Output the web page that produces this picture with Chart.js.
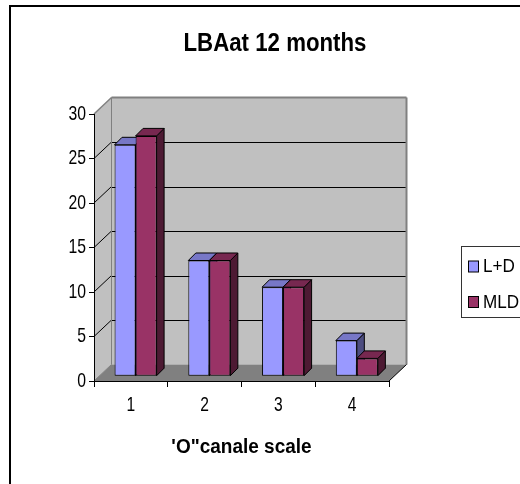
<!DOCTYPE html>
<html>
<head>
<meta charset="utf-8">
<title>LBAat 12 months</title>
<script src="https://cdn.jsdelivr.net/npm/chart.js@4.4.1/dist/chart.umd.min.js"></script>
<style>
  html, body { margin: 0; padding: 0; background: #fff; }
  canvas { display: block; }
</style>
</head>
<body>
<canvas id="c" width="520" height="484"></canvas>
<script>
// Chart data
const categories = ['1', '2', '3', '4'];
const seriesNames = ['L+D', 'MLD'];
const ldValues = [26, 13, 10, 4];
const mldValues = [27, 13, 10, 2];
const yMin = 0;
const yMax = 30;
const yStep = 5;
const chartTitle = 'LBAat 12 months';
const xAxisTitle = '\'O"canale scale';

const FONT = "'Liberation Sans', Arial, sans-serif";
const seriesColors = ['#9999ff', '#993366'];

// 3D look: depth of the plot box and of each bar, and where bars sit in the box
const BOX_DX = 17.5, BOX_DY = -16.5;
const BAR_SHIFT_X = 4.7, BAR_SHIFT_Y = -4.8;
const BAR_DEPTH = 7.5;

// Tall, narrow lettering: text is drawn horizontally condensed, by font weight and size
const squeezeTable = { 'bold 25': 0.89, 'bold 20': 0.95, 'normal 21': 0.75, 'normal 20': 0.78, 'normal 19': 0.9 };
const nativeFillText = CanvasRenderingContext2D.prototype.fillText;
function squeezeFor(font) {
  const m = /(\d+(?:\.\d+)?)px/.exec(font);
  const size = m ? Math.round(parseFloat(m[1])) : 0;
  const weight = /bold|700/.test(font) ? 'bold' : 'normal';
  return squeezeTable[weight + ' ' + size] || 1;
}
CanvasRenderingContext2D.prototype.fillText = function (text, x, y, maxWidth) {
  const sx = squeezeFor(this.font);
  this.save();
  this.translate(x, y);
  this.scale(sx, 1);
  if (maxWidth === undefined || maxWidth === null) nativeFillText.call(this, text, 0, 0);
  else nativeFillText.call(this, text, 0, 0, maxWidth / sx);
  this.restore();
};

function shade(hex, f) {
  const n = parseInt(hex.slice(1), 16);
  const r = Math.round(((n >> 16) & 255) * f);
  const g = Math.round(((n >> 8) & 255) * f);
  const b = Math.round((n & 255) * f);
  return `rgb(${r},${g},${b})`;
}

function poly(ctx, pts, fill, stroke, lw) {
  ctx.beginPath();
  ctx.moveTo(pts[0][0], pts[0][1]);
  for (let i = 1; i < pts.length; i++) ctx.lineTo(pts[i][0], pts[i][1]);
  ctx.closePath();
  if (fill) { ctx.fillStyle = fill; ctx.fill(); }
  if (stroke) { ctx.strokeStyle = stroke; ctx.lineWidth = lw || 1; ctx.stroke(); }
}

function line(ctx, x1, y1, x2, y2, color, lw) {
  ctx.beginPath();
  ctx.moveTo(x1, y1);
  ctx.lineTo(x2, y2);
  ctx.strokeStyle = color;
  ctx.lineWidth = lw || 1;
  ctx.stroke();
}

// Outer frame, walls, floor and gridlines of the 3D box
const boxPlugin = {
  id: 'box3d',
  beforeDraw(chart) {
    const ctx = chart.ctx;
    const xs = chart.scales.x, ys = chart.scales.y;
    const L = xs.left, R = xs.right;
    const B = ys.getPixelForValue(yMin), T = ys.getPixelForValue(yMax);
    const dx = BOX_DX, dy = BOX_DY;
    ctx.save();

    // frame
    ctx.fillStyle = '#fff';
    ctx.fillRect(0, 0, chart.width, chart.height);
    ctx.fillStyle = '#000';
    ctx.fillRect(9, 5, chart.width, 2);
    ctx.fillRect(9, 5, 2, chart.height);

    // left side wall
    poly(ctx, [[L, B], [L, T], [L + dx, T + dy], [L + dx, B + dy]], '#c0c0c0');
    // back wall
    poly(ctx, [[L + dx, T + dy], [R + dx, T + dy], [R + dx, B + dy], [L + dx, B + dy]], '#c0c0c0');
    // floor
    poly(ctx, [[L, B], [R, B], [R + dx, B + dy], [L + dx, B + dy]], '#808080');

    // gridlines on the back wall and the side wall
    ys.ticks.forEach(t => {
      const py = ys.getPixelForValue(t.value);
      if (t.value === yMin || t.value === yMax) return;
      const yy = Math.round(py + dy) + 0.5;
      line(ctx, L + dx, yy, R + dx, yy, '#000', 1);
      line(ctx, L, py, L + dx, py + dy, '#000', 1);
    });

    // box edges
    line(ctx, L, T, L + dx, T + dy, '#808080', 1.5);
    line(ctx, L + dx, T + dy, R + dx, T + dy, '#808080', 2);
    line(ctx, R + dx, T + dy, R + dx, B + dy, '#808080', 2);
    line(ctx, L + dx, T + dy, L + dx, B + dy, '#808080', 1);
    line(ctx, L, B, L + dx, B + dy, '#808080', 1);
    line(ctx, R, B, R + dx, B + dy, '#000', 1);
    ctx.restore();
  },
  // top and side faces of each bar; fronts are drawn by the bar controller
  beforeDatasetsDraw(chart) {
    const ctx = chart.ctx;
    ctx.save();
    ctx.translate(BAR_SHIFT_X, BAR_SHIFT_Y);
    const d = BAR_DEPTH;
    for (let i = 0; i < categories.length; i++) {
      chart.data.datasets.forEach((ds, di) => {
        const el = chart.getDatasetMeta(di).data[i];
        const p = el.getProps(['x', 'y', 'base', 'width'], true);
        const left = p.x - p.width / 2, right = p.x + p.width / 2;
        const top = Math.min(p.y, p.base), bottom = Math.max(p.y, p.base);
        const c = seriesColors[di];
        poly(ctx, [[right, top], [right + d, top - d], [right + d, bottom - d], [right, bottom]], shade(c, 0.5), '#000', 1);
        poly(ctx, [[left, top], [left + d, top - d], [right + d, top - d], [right, top]], shade(c, 0.78), '#000', 1);
      });
    }
  },
  afterDatasetsDraw(chart) {
    chart.ctx.restore();
  },
  // legend box
  afterDraw(chart) {
    const ctx = chart.ctx;
    ctx.save();
    const bx = 461.5, by = 246.5, bw = 80, bh = 71;
    ctx.fillStyle = '#fff';
    ctx.fillRect(bx, by, bw, bh);
    ctx.strokeStyle = '#333';
    ctx.lineWidth = 1;
    ctx.strokeRect(bx, by, bw, bh);
    ctx.font = `19px ${FONT}`;
    ctx.textBaseline = 'middle';
    ctx.textAlign = 'left';
    chart.data.datasets.forEach((ds, di) => {
      const cy = 266.5 + di * 35.5;
      ctx.fillStyle = ds.backgroundColor;
      ctx.fillRect(468.5, cy - 5.5, 10, 11);
      ctx.strokeStyle = '#000';
      ctx.strokeRect(468.5, cy - 5.5, 10, 11);
      ctx.fillStyle = '#000';
      ctx.fillText(ds.label, 483, cy + 0.5);
    });
    ctx.restore();
  }
};

new Chart(document.getElementById('c'), {
  type: 'bar',
  data: {
    labels: categories,
    datasets: [
      {
        label: seriesNames[0], data: ldValues,
        backgroundColor: seriesColors[0], borderColor: '#000', borderWidth: 1, borderSkipped: false,
        categoryPercentage: 0.57, barPercentage: 1, clip: false
      },
      {
        label: seriesNames[1], data: mldValues,
        backgroundColor: seriesColors[1], borderColor: '#000', borderWidth: 1, borderSkipped: false,
        categoryPercentage: 0.57, barPercentage: 1, clip: false
      }
    ]
  },
  options: {
    responsive: false,
    animation: false,
    devicePixelRatio: 1,
    events: [],
    layout: { padding: { left: 30, right: 0, top: 0, bottom: 0 } },
    plugins: {
      legend: { display: false },
      tooltip: { enabled: false },
      title: {
        display: true, text: chartTitle, color: '#000',
        font: { family: FONT, size: 25, weight: 'bold', lineHeight: 1.2 },
        padding: { top: 29, bottom: 55 }
      }
    },
    scales: {
      x: {
        offset: true,
        grid: { display: true, offset: true, drawOnChartArea: false, drawTicks: true, tickLength: 6, color: '#000' },
        border: { display: true, color: '#000', width: 1 },
        ticks: { color: '#000', font: { family: FONT, size: 20 }, padding: 6, maxRotation: 0 },
        title: {
          display: true, text: xAxisTitle, color: '#000',
          font: { family: FONT, size: 20, weight: 'bold', lineHeight: 1.2 },
          padding: { top: 0, bottom: 24.5 }
        },
        afterFit(s) { s.height = 103; }
      },
      y: {
        min: yMin, max: yMax,
        ticks: { stepSize: yStep, color: '#000', font: { family: FONT, size: 21 }, padding: 3 },
        grid: { display: true, drawOnChartArea: false, drawTicks: true, tickLength: 5, color: '#000' },
        border: { display: true, color: '#000', width: 1 },
        afterFit(s) { s.width = 64; }
      },
      y2: {
        type: 'linear', position: 'right', display: true,
        grid: { display: false }, ticks: { display: false }, border: { display: false },
        afterFit(s) { s.width = 131; }
      }
    }
  },
  plugins: [boxPlugin]
});
</script>
</body>
</html>
